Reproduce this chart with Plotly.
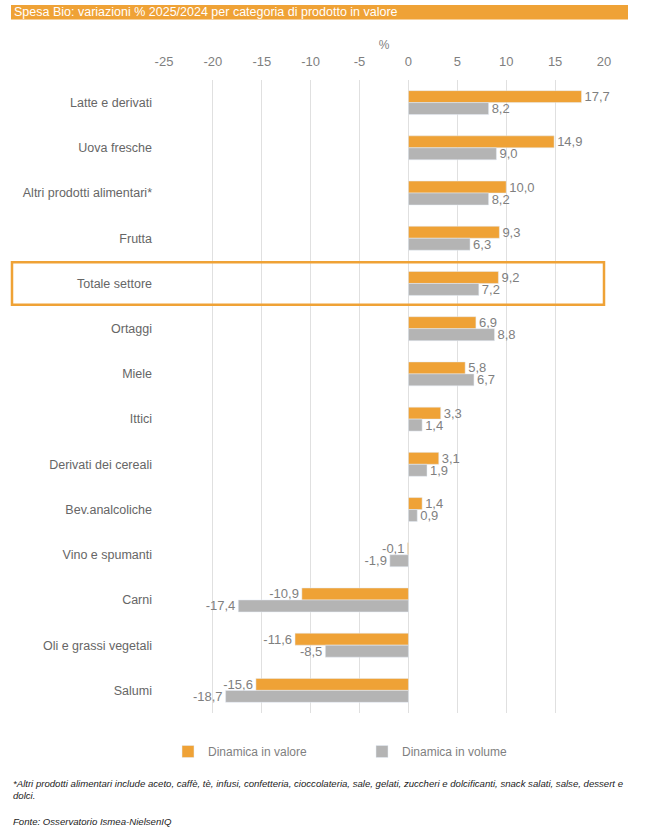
import plotly.graph_objects as go

# data (top to bottom)
categories = [
    "Latte e derivati", "Uova fresche", "Altri prodotti alimentari*", "Frutta",
    "Totale settore", "Ortaggi", "Miele", "Ittici", "Derivati dei cereali",
    "Bev.analcoliche", "Vino e spumanti", "Carni", "Oli e grassi vegetali", "Salumi",
]
valore = [17.7, 14.9, 10.0, 9.3, 9.2, 6.9, 5.8, 3.3, 3.1, 1.4, -0.1, -10.9, -11.6, -15.6]
volume = [8.2, 9.0, 8.2, 6.3, 7.2, 8.8, 6.7, 1.4, 1.9, 0.9, -1.9, -17.4, -8.5, -18.7]
x_ticks = [-25, -20, -15, -10, -5, 0, 5, 10, 15, 20]

ORANGE = "#EFA236"
GREY = "#B4B4B4"
TXT = "#7F7F7F"
FONT = "Liberation Sans, Arial, sans-serif"

# body margin is reset to 0 in the page (see write_html), so window px == figure px
W, H = 650, 833
L, T = 164, 80
R = W - 604
B = H - 713
pw, ph = W - L - R, H - T - B


def px_x(x):
    # window pixel -> paper x
    return (x - L) / pw


def px_y(y):
    # window pixel -> paper y
    return (H - B - y) / ph


def fmt(v):
    return f"{v:.1f}".replace(".", ",")


fig = go.Figure()

fig.add_trace(go.Bar(
    y=categories, x=valore, orientation="h", name="Dinamica in valore",
    marker=dict(color=ORANGE), text=[fmt(v) for v in valore], textposition="outside",
    constraintext="none", textfont=dict(color=TXT, size=13, family=FONT), cliponaxis=False,
))
fig.add_trace(go.Bar(
    y=categories, x=volume, orientation="h", name="Dinamica in volume",
    marker=dict(color=GREY), text=[fmt(v) for v in volume], textposition="outside",
    constraintext="none", textfont=dict(color=TXT, size=13, family=FONT), cliponaxis=False,
))

# box around "Totale settore"
idx = categories.index("Totale settore")
fig.add_shape(type="rect", xref="paper", yref="y",
              x0=px_x(12), x1=px_x(604), y0=idx - 0.47, y1=idx + 0.47,
              line=dict(color=ORANGE, width=2.5), fillcolor="rgba(0,0,0,0)", layer="above")

# orange title bar
fig.add_shape(type="rect", xref="paper", yref="paper",
              x0=px_x(11), x1=px_x(628), y0=px_y(19.5), y1=px_y(5),
              line=dict(width=0), fillcolor=ORANGE)
fig.add_annotation(xref="paper", yref="paper", x=px_x(12), y=px_y(12.5),
                   xanchor="left", yanchor="middle", showarrow=False,
                   text="Spesa Bio: variazioni % 2025/2024 per categoria di prodotto in valore",
                   font=dict(color="white", size=12.5, family=FONT))

# footnotes
fig.add_annotation(xref="paper", yref="paper", x=px_x(11), y=px_y(776),
                   xanchor="left", yanchor="top", showarrow=False, align="left",
                   text="<i>*Altri prodotti alimentari include aceto, caffè, tè, infusi, confetteria, "
                        "cioccolateria, sale, gelati, zuccheri e dolcificanti, snack salati, salse, dessert e"
                        "<br>dolci.</i>",
                   font=dict(color="#222222", size=9.6, family=FONT))
fig.add_annotation(xref="paper", yref="paper", x=px_x(11), y=px_y(814),
                   xanchor="left", yanchor="top", showarrow=False,
                   text="<i>Fonte: Osservatorio Ismea-NielsenIQ</i>",
                   font=dict(color="#222222", size=9.6, family=FONT))

fig.update_layout(
    width=W, height=H,
    margin=dict(l=L, r=R, t=T, b=B),
    paper_bgcolor="white", plot_bgcolor="white",
    font=dict(family=FONT, color=TXT, size=12),
    barmode="group", bargap=0.47, bargroupgap=0,
    showlegend=True,
    legend=dict(orientation="h", x=px_x(168), y=px_y(737), xanchor="left", yanchor="top",
                font=dict(size=12, color=TXT, family=FONT), entrywidth=149,
                traceorder="normal"),
    xaxis=dict(range=[-25, 20], side="top", tickvals=x_ticks,
               ticktext=[str(t) for t in x_ticks],
               showgrid=True, gridcolor="#E0E0E0", gridwidth=1, zeroline=False,
               showline=False, tickfont=dict(size=13, color=TXT), ticklabelstandoff=10,
               title=dict(text="%", font=dict(size=12, color=TXT), standoff=2)),
    yaxis=dict(autorange="reversed", showgrid=False, showline=False, zeroline=False,
               tickfont=dict(size=12.5, color="#666666"), ticklabelstandoff=11),
)

fig.write_html("out.html", config={"displayModeBar": False},
               post_script="document.body.style.margin = '0';")
